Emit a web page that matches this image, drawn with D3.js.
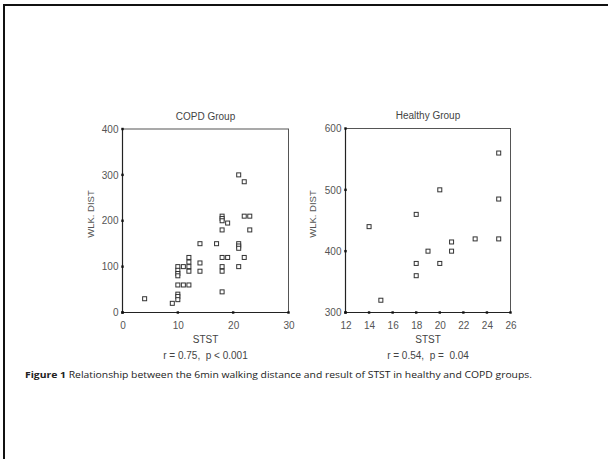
<!DOCTYPE html>
<html><head><meta charset="utf-8">
<script src="https://cdn.jsdelivr.net/npm/d3@7"></script>
<style>body{margin:0;background:#fff}svg{display:block}</style>
</head><body>
<svg id="c" width="608" height="459"></svg>
<script>
// COPD group: STST vs 6-min walking distance
const copdX = [4, 9, 10,10,10,10,10,10,10,10, 11,11, 12,12,12,12,12, 14,14,14, 17, 18,18,18,18,18,18,18,18, 19,19, 21,21,21,21,21, 22,22,22, 23,23];
const copdY = [30, 20, 100,92,85,80,60,40,35,28, 100,60, 120,110,100,90,60, 150,108,90, 150, 210,205,200,180,120,100,90,45, 195,120, 300,150,145,140,100, 285,210,120, 210,180];
// Healthy group
const healthyX = [14, 15, 18,18,18, 19, 20,20, 21,21, 23, 25,25,25];
const healthyY = [440, 320, 460,380,360, 400, 500,380, 415,400, 420, 560,485,420];

const copdXTicks = [0,10,20,30];
const copdYTicks = [0,100,200,300,400];
const healthyXTicks = [12,14,16,18,20,22,24,26];
const healthyYTicks = [300,400,500,600];

const svg = d3.select("#c");
const font = "Liberation Sans, Arial, sans-serif";

// page border (top & left)
svg.append("line").attr("x1",3).attr("x2",608).attr("y1",5).attr("y2",5).attr("stroke","#111").attr("stroke-width",2);
svg.append("line").attr("x1",4).attr("x2",4).attr("y1",4).attr("y2",459).attr("stroke","#111").attr("stroke-width",2);

function panel(cfg){
  const x = d3.scaleLinear().domain(cfg.xd).range([cfg.x0, cfg.x1]);
  const y = d3.scaleLinear().domain(cfg.yd).range([cfg.y0, cfg.y1]);
  const g = svg.append("g");
  // frame
  g.append("rect").attr("x",cfg.x0).attr("y",cfg.y1).attr("width",cfg.x1-cfg.x0).attr("height",cfg.y0-cfg.y1)
    .attr("fill","none").attr("stroke","#555").attr("stroke-width",1);
  g.append("line").attr("x1",cfg.x0).attr("x2",cfg.x0).attr("y1",cfg.y1).attr("y2",cfg.y0).attr("stroke","#222").attr("stroke-width",1.2);
  g.append("line").attr("x1",cfg.x0).attr("x2",cfg.x1).attr("y1",cfg.y0).attr("y2",cfg.y0).attr("stroke","#222").attr("stroke-width",1.2);
  // axes via d3
  const xa = g.append("g").attr("transform",`translate(0,${cfg.y0})`)
    .call(d3.axisBottom(x).tickValues(cfg.xt).tickSize(0).tickPadding(9).tickFormat(d3.format("d")));
  const ya = g.append("g").attr("transform",`translate(${cfg.x0},0)`)
    .call(d3.axisLeft(y).tickValues(cfg.yt).tickSize(0).tickPadding(4).tickFormat(d3.format("d")));
  [xa,ya].forEach(a=>{
    a.select(".domain").remove();
    a.selectAll("text").attr("font-family",font).attr("font-size",10).attr("fill","#555");
  });
  // tick markers (small squares)
  g.selectAll(".xt").data(cfg.xt).join("rect").attr("x",d=>x(d)-1.2).attr("y",cfg.y0-1.2).attr("width",2.4).attr("height",2.4).attr("fill","#111");
  g.selectAll(".yt").data(cfg.yt).join("rect").attr("x",cfg.x0-1.2).attr("y",d=>y(d)-1.2).attr("width",2.4).attr("height",2.4).attr("fill","#111");
  // points
  g.selectAll(".pt").data(cfg.px.map((v,i)=>[v,cfg.py[i]])).join("rect")
    .attr("x",d=>x(d[0])-2).attr("y",d=>y(d[1])-2).attr("width",4).attr("height",4)
    .attr("fill","#fff").attr("stroke","#333").attr("stroke-width",1);
  const cx = (cfg.x0+cfg.x1)/2;
  g.append("text").attr("x",cx).attr("y",cfg.y1-9.5).attr("text-anchor","middle")
    .attr("font-family",font).attr("font-size",10).attr("fill","#444").text(cfg.title);
  g.append("text").attr("x",cx).attr("y",343).attr("text-anchor","middle")
    .attr("font-family",font).attr("font-size",10).attr("fill","#444").text("STST");
  g.append("text").attr("x",cx).attr("y",358.5).attr("text-anchor","middle").attr("xml:space","preserve")
    .attr("font-family",font).attr("font-size",10).attr("fill","#444").text(cfg.stat);
  g.append("text").attr("transform",`translate(${cfg.ylx},214) rotate(-90)`).attr("text-anchor","middle")
    .attr("dy","0.35em").attr("font-family",font).attr("font-size",9.5).attr("fill","#555").text("WLK. DIST");
}

panel({xd:[0,30], yd:[0,400], x0:122.5, x1:288.5, y0:312.5, y1:129,
  xt:copdXTicks, yt:copdYTicks, px:copdX, py:copdY, title:"COPD Group",
  stat:"r = 0.75,  p < 0.001", ylx:91});
panel({xd:[12,26], yd:[300,600], x0:345.5, x1:510.5, y0:312.5, y1:128.5,
  xt:healthyXTicks, yt:healthyYTicks, px:healthyX, py:healthyY, title:"Healthy Group",
  stat:"r = 0.54,  p =  0.04", ylx:313});

// caption
const cap = svg.append("text").attr("x",25).attr("y",378).attr("font-family","Open Sans, sans-serif")
  .attr("font-size",8.6).attr("fill","#222").attr("textLength",507).attr("lengthAdjust","spacingAndGlyphs");
cap.append("tspan").attr("font-weight","bold").text("Figure 1");
cap.append("tspan").text("  Relationship between the 6min walking distance and result of STST in healthy and COPD groups.");
</script>
</body></html>
